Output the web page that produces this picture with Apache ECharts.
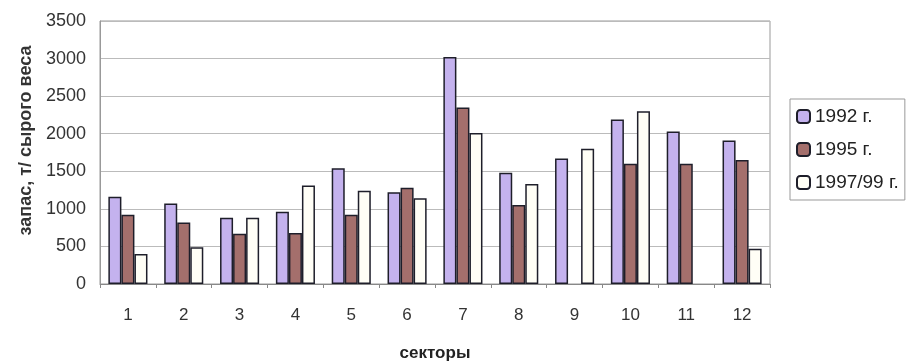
<!DOCTYPE html>
<html><head><meta charset="utf-8">
<script src="https://cdn.jsdelivr.net/npm/echarts@6/dist/echarts.min.js"></script>
<style>html,body{margin:0;padding:0;background:#fff}#c{width:908px;height:361px}</style>
</head><body><div id="c"></div>
<script>
const categories = ['1','2','3','4','5','6','7','8','9','10','11','12'];
const s1992 = [1160,1070,880,960,1540,1220,3020,1480,1670,2190,2030,1910];
const s1995 = [920,820,670,680,920,1280,2350,1050,null,1600,1600,1650];
const s1997 = [400,490,880,1310,1240,1140,2010,1330,1800,2300,null,470];
const seriesNames = ['1992 г.','1995 г.','1997/99 г.'];
const yTicks = {min:0, max:3500, interval:500};

const chart = echarts.init(document.getElementById('c'));
const border = {borderColor:'#1e1e2a', borderWidth:1.5};
const font = 'Liberation Sans, Arial';
chart.setOption({
  animation:false,
  backgroundColor:'#fff',
  grid:{left:100, right:138, top:21, bottom:77, show:true, borderColor:'#999', borderWidth:1,
        outerBoundsMode:'none', containLabel:false},
  legend:{
    orient:'vertical', left:790, top:99, itemWidth:13, itemHeight:13, itemGap:14,
    borderColor:'#999', borderWidth:1, padding:[8,6,8,6],
    textStyle:{fontFamily:font, fontSize:19, color:'#222'},
    data:seriesNames
  },
  xAxis:{
    type:'category', data:categories,
    name:'секторы', nameLocation:'middle', nameGap:61,
    nameTextStyle:{fontFamily:font, fontWeight:'bold', fontSize:17, color:'#222'},
    axisLine:{lineStyle:{color:'#888'}},
    axisTick:{show:true, length:4, lineStyle:{color:'#888'}},
    axisLabel:{margin:23, fontFamily:font, fontSize:17, color:'#333'}
  },
  yAxis:{
    type:'value', min:yTicks.min, max:yTicks.max, interval:yTicks.interval,
    name:'запас, т/ сырого веса', nameLocation:'middle', nameGap:62,
    nameTextStyle:{fontFamily:font, fontWeight:'bold', fontSize:18, color:'#333', padding:[0,0,0,24]},
    axisLine:{show:true, lineStyle:{color:'#999'}},
    axisTick:{show:false},
    axisLabel:{margin:14, fontFamily:font, fontSize:18, color:'#333', formatter:function(v){return String(v);}},
    splitLine:{lineStyle:{color:'#bbb'}}
  },
  series:[
    {name:seriesNames[0], type:'bar', data:s1992, barGap:'0%', barCategoryGap:'30%',
     itemStyle:Object.assign({color:'#c4b2ee'}, border)},
    {name:seriesNames[1], type:'bar', data:s1995,
     itemStyle:Object.assign({color:'#a46f6c'}, border)},
    {name:seriesNames[2], type:'bar', data:s1997,
     itemStyle:Object.assign({color:'#fffef6'}, border)}
  ]
});
</script></body></html>
